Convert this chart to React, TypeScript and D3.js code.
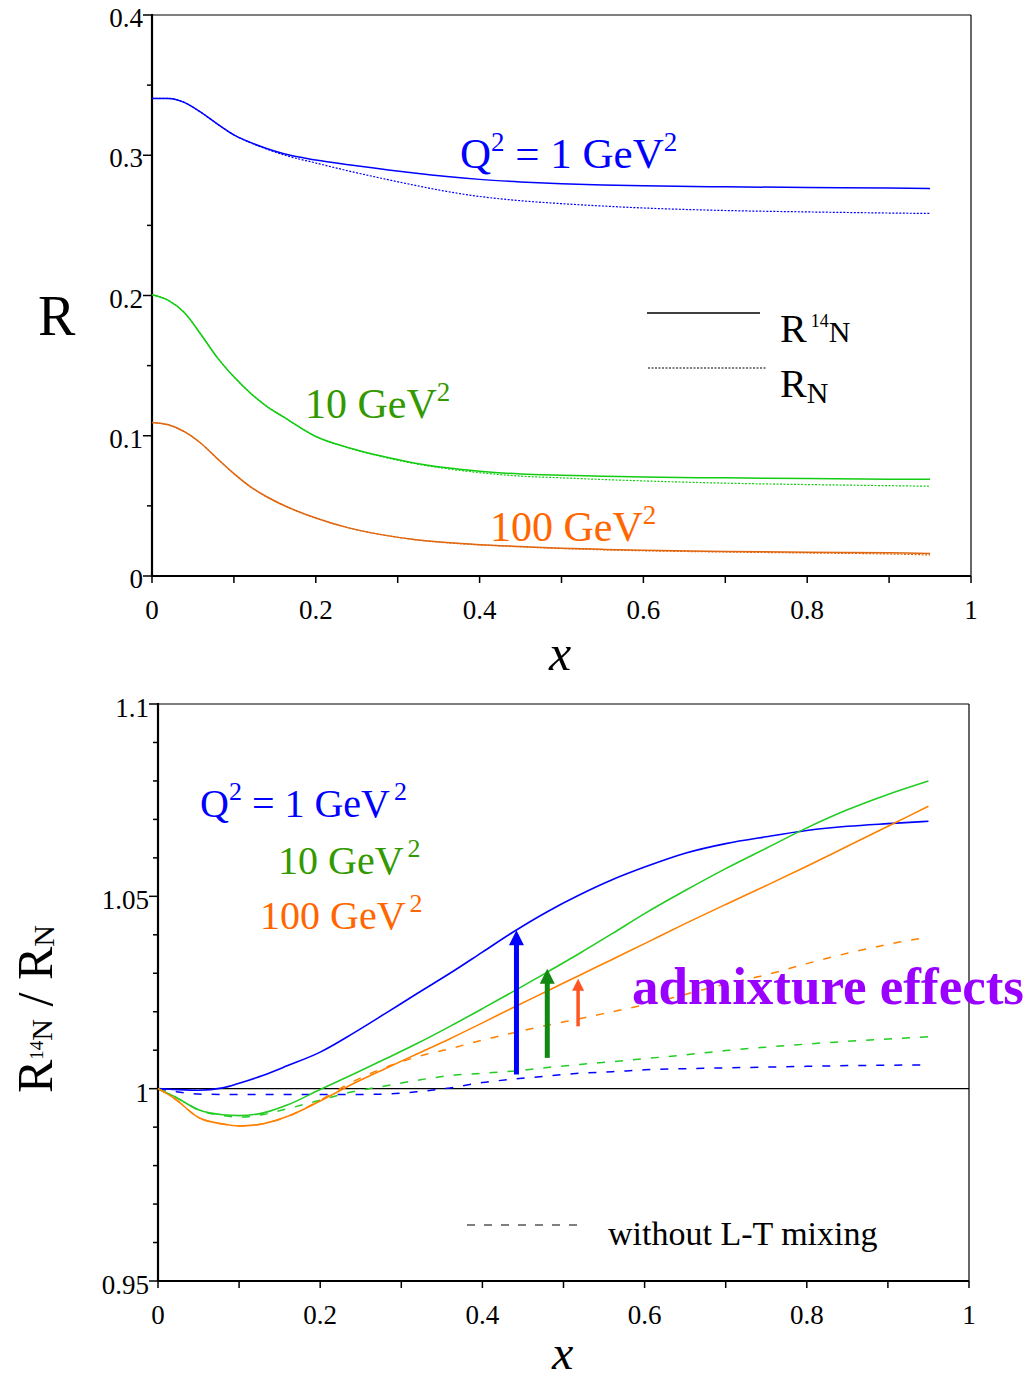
import * as d3 from "d3";

// ---- top panel: R vs x ----
const xTop = [0, 0.02, 0.04, 0.06, 0.08, 0.1, 0.12, 0.14, 0.16, 0.2, 0.24, 0.28, 0.32, 0.36, 0.4, 0.45, 0.5, 0.55, 0.6, 0.7, 0.8, 0.9, 0.95];
const r14N_q1 = [0.3405, 0.3405, 0.3375, 0.3305, 0.3222, 0.3145, 0.3092, 0.3048, 0.3012, 0.2966, 0.2932, 0.2902, 0.2873, 0.2848, 0.2828, 0.281, 0.2797, 0.2788, 0.2782, 0.2775, 0.277, 0.2767, 0.2762];
const rN_q1 = [0.3405, 0.3405, 0.3375, 0.3305, 0.3222, 0.3145, 0.309, 0.3044, 0.3004, 0.2945, 0.2888, 0.2836, 0.2787, 0.2742, 0.2706, 0.2676, 0.2655, 0.2638, 0.2624, 0.2606, 0.2596, 0.2588, 0.2585];
const r14N_q10 = [0.2005, 0.1965, 0.1875, 0.172, 0.1555, 0.142, 0.1305, 0.121, 0.1136, 0.0995, 0.0915, 0.0855, 0.0806, 0.0771, 0.0747, 0.0727, 0.0718, 0.0712, 0.0705, 0.07, 0.0695, 0.069, 0.069];
const rN_q10 = [0.2005, 0.1965, 0.1875, 0.172, 0.1555, 0.142, 0.1305, 0.121, 0.1136, 0.0995, 0.0913, 0.0852, 0.0802, 0.0765, 0.0737, 0.0712, 0.07, 0.0688, 0.0678, 0.0662, 0.0652, 0.0644, 0.064];
const r14N_q100 = [0.1095, 0.1078, 0.1028, 0.0945, 0.0835, 0.073, 0.0637, 0.0565, 0.0506, 0.0413, 0.0343, 0.0295, 0.026, 0.0238, 0.0223, 0.021, 0.0198, 0.019, 0.0183, 0.0175, 0.0169, 0.0166, 0.016];
const rN_q100 = [0.1095, 0.1078, 0.1028, 0.0945, 0.0835, 0.073, 0.0637, 0.0565, 0.0506, 0.0413, 0.0343, 0.0295, 0.026, 0.0237, 0.0222, 0.0208, 0.0196, 0.0187, 0.018, 0.0171, 0.0164, 0.0157, 0.015];

// ---- bottom panel: R14N / RN vs x ----
const xBot = [0, 0.02, 0.05, 0.08, 0.1, 0.13, 0.16, 0.2, 0.24, 0.28, 0.32, 0.36, 0.4, 0.44, 0.48, 0.52, 0.56, 0.6, 0.65, 0.7, 0.75, 0.8, 0.85, 0.9, 0.95];
const ratio_q1 = [1.0, 0.9998, 0.9996, 1.0002, 1.0014, 1.0035, 1.006, 1.0095, 1.0143, 1.0195, 1.0248, 1.03, 1.0355, 1.041, 1.046, 1.0504, 1.0543, 1.0576, 1.0612, 1.0637, 1.0655, 1.0671, 1.0682, 1.0689, 1.0695];
const ratio_q10 = [1.0, 0.998, 0.9945, 0.9932, 0.993, 0.9937, 0.9958, 0.9998, 1.0037, 1.0077, 1.0118, 1.0162, 1.0208, 1.0255, 1.0303, 1.0352, 1.0403, 1.0455, 1.0515, 1.0572, 1.0625, 1.0678, 1.0725, 1.0765, 1.08];
const ratio_q100 = [1.0, 0.9975, 0.9925, 0.9908, 0.9903, 0.9909, 0.9928, 0.9968, 1.0012, 1.0052, 1.0091, 1.013, 1.0171, 1.0213, 1.0254, 1.0295, 1.0336, 1.0377, 1.0429, 1.0479, 1.0528, 1.0578, 1.063, 1.0682, 1.0734];
const noMix_q1 = [1.0, 0.9993, 0.9986, 0.9985, 0.9985, 0.9985, 0.9985, 0.9985, 0.9985, 0.9986, 0.9992, 1.0002, 1.0016, 1.0025, 1.0033, 1.004, 1.0044, 1.0049, 1.0052, 1.0054, 1.0056, 1.0058, 1.006, 1.0061, 1.0062];
const noMix_q10 = [1.0, 0.998, 0.9945, 0.993, 0.9926, 0.9933, 0.9948, 0.997, 0.9992, 1.0007, 1.0022, 1.0034, 1.004, 1.0046, 1.0055, 1.0063, 1.007, 1.0078, 1.0088, 1.0099, 1.0108, 1.0116, 1.0123, 1.0129, 1.0135];
const noMix_q100 = [1.0, 0.9975, 0.9925, 0.9908, 0.9903, 0.9909, 0.9928, 0.997, 1.0018, 1.0055, 1.0083, 1.0104, 1.0126, 1.0146, 1.0165, 1.0182, 1.02, 1.0218, 1.0245, 1.0272, 1.0296, 1.0325, 1.0352, 1.0375, 1.0394];

// arrows: x, start, tip
const arrowX = [0.442, 0.48, 0.518];
const arrowFrom = [1.0037, 1.008, 1.0162];
const arrowTo = [1.0412, 1.0312, 1.0286];
const arrowColors = ["#0000ff", "#118811", "#ff5522"];

const topYTicks = [0, 0.1, 0.2, 0.3, 0.4];
const botYTicks = [0.95, 1, 1.05, 1.1];
const xTicks = [0, 0.2, 0.4, 0.6, 0.8, 1];

const FONT = "'Liberation Serif', 'Times New Roman', serif";

const xT = d3.scaleLinear().domain([0, 1]).range([152, 971]);
const yT = d3.scaleLinear().domain([0, 0.4]).range([576, 15]);
const xB = d3.scaleLinear().domain([0, 1]).range([158, 969]);
const yB = d3.scaleLinear().domain([0.95, 1.1]).range([1281, 704]);

const fmt = (v: number) => String(+v.toFixed(2));

function Frame({ x, y, yMinor, yMajor, yLabelDy }: any) {
  const [x0, x1] = x.range();
  const [y0, y1] = y.range();
  return (
    <g>
      <line x1={x0} x2={x1} y1={y1} y2={y1} stroke="#000" strokeWidth={1.2} />
      <line x1={x1} x2={x1} y1={y1} y2={y0} stroke="#000" strokeWidth={1.2} />
      <line x1={x0} x2={x0} y1={y1 - 1} y2={y0 + 1} stroke="#000" strokeWidth={2.2} />
      <line x1={x0 - 1} x2={x1} y1={y0} y2={y0} stroke="#000" strokeWidth={2.2} />
      {d3.range(0, 1.0001, 0.1).map((t) => (
        <line key={"xt" + t} x1={x(t)} x2={x(t)} y1={y0} y2={y0 + 7} stroke="#000" strokeWidth={1.5} />
      ))}
      {yMinor.map((t: number) => (
        <line key={"yt" + t} x1={x0 - 5} x2={x0} y1={y(t)} y2={y(t)} stroke="#000" strokeWidth={1.5} />
      ))}
      {yMajor.map((t: number) => (
        <g key={"yl" + t}>
          <line x1={x0 - 9} x2={x0} y1={y(t)} y2={y(t)} stroke="#000" strokeWidth={1.5} />
          <text x={x0 - 9} y={y(t) + yLabelDy} textAnchor="end" fontSize={27} fontFamily={FONT}>{fmt(t)}</text>
        </g>
      ))}
      {xTicks.map((t) => (
        <text key={"xl" + t} x={x(t)} y={y0 + 43} textAnchor="middle" fontSize={27} fontFamily={FONT}>{fmt(t)}</text>
      ))}
    </g>
  );
}

function Arrow({ x, from, to, color, w, head }: any) {
  const px = xB(x);
  const yFrom = yB(from);
  const yTo = yB(to);
  return (
    <g>
      <line x1={px} x2={px} y1={yFrom} y2={yTo + head - 1} stroke={color} strokeWidth={w} />
      <path d={`M${px},${yTo} L${px - head / 2},${yTo + head} L${px + head / 2},${yTo + head} Z`} fill={color} />
    </g>
  );
}

export default function App() {
  const lineTop = (ys: number[]) =>
    d3.line<number>().x((_, i) => xT(xTop[i])).y((d) => yT(d)).curve(d3.curveMonotoneX)(ys) || "";
  const lineBot = (ys: number[]) =>
    d3.line<number>().x((_, i) => xB(xBot[i])).y((d) => yB(d)).curve(d3.curveMonotoneX)(ys) || "";

  const topMinor = d3.range(0.05, 0.4, 0.1);
  const botMinor = d3.range(0.95, 1.1001, 0.01).filter((t) => Math.abs(t * 20 - Math.round(t * 20)) > 0.01);

  const topSeries = [
    { s: r14N_q1, d: rN_q1, c: "#0000ff" },
    { s: r14N_q10, d: rN_q10, c: "#11cc11" },
    { s: r14N_q100, d: rN_q100, c: "#e0660f" },
  ];
  const botSeries = [
    { s: ratio_q1, d: noMix_q1, c: "#0000ff" },
    { s: ratio_q10, d: noMix_q10, c: "#22cc22" },
    { s: ratio_q100, d: noMix_q100, c: "#ff8000" },
  ];

  return (
    <svg width={1027} height={1378} style={{ position: "absolute", left: 0, top: 0, background: "#fff" }} fontFamily={FONT}>
      {/* top panel */}
      <Frame x={xT} y={yT} yMinor={topMinor} yMajor={topYTicks} yLabelDy={12} />
      {topSeries.map((p, i) => (
        <g key={"ts" + i}>
          <path d={lineTop(p.d)} fill="none" stroke={p.c} strokeWidth={1.2} strokeDasharray="2,1.5" />
          <path d={lineTop(p.s)} fill="none" stroke={p.c} strokeWidth={1.5} />
        </g>
      ))}
      <text x={38} y={335} fontSize={56}>R</text>
      <text x={549} y={670} fontSize={50} fontStyle="italic">x</text>
      <text x={460} y={168} fontSize={43} fill="#0000ff">
        Q<tspan dy={-17} fontSize={27}>2</tspan><tspan dy={17}> = 1 GeV</tspan><tspan dy={-17} fontSize={27}>2</tspan>
      </text>
      <text x={305} y={418} fontSize={42} fill="#339900">
        10 GeV<tspan dy={-17} fontSize={27}>2</tspan>
      </text>
      <text x={490} y={541} fontSize={42} fill="#ff6600">
        100 GeV<tspan dy={-17} fontSize={27}>2</tspan>
      </text>
      <line x1={647} x2={760} y1={313} y2={313} stroke="#000" strokeWidth={1.5} />
      <line x1={648} x2={766} y1={368} y2={368} stroke="#000" strokeWidth={1.2} strokeDasharray="2,1.5" />
      <text x={780} y={342} fontSize={40}>
        R<tspan dx={4} dy={-15} fontSize={18}>14</tspan><tspan dy={15} fontSize={30}>N</tspan>
      </text>
      <text x={780} y={397} fontSize={40}>
        R<tspan dy={6} fontSize={30}>N</tspan>
      </text>

      {/* bottom panel */}
      <Frame x={xB} y={yB} yMinor={botMinor} yMajor={botYTicks} yLabelDy={13} />
      <line x1={xB(0)} x2={xB(1)} y1={yB(1)} y2={yB(1)} stroke="#000" strokeWidth={1.3} />
      {botSeries.map((p, i) => (
        <g key={"bs" + i}>
          <path d={lineBot(p.d)} fill="none" stroke={p.c} strokeWidth={1.5} strokeDasharray="8,10" />
          <path d={lineBot(p.s)} fill="none" stroke={p.c} strokeWidth={1.6} />
        </g>
      ))}
      {arrowX.map((ax, i) => (
        <Arrow key={"ar" + i} x={ax} from={arrowFrom[i]} to={arrowTo[i]} color={arrowColors[i]} w={i === 2 ? 3.5 : 5} head={i === 2 ? 12 : 15} />
      ))}
      <text x={200} y={817} fontSize={40} fill="#0000ff">
        Q<tspan dy={-17} fontSize={26}>2</tspan><tspan dy={17}> = 1 GeV</tspan><tspan dx={4} dy={-17} fontSize={26}>2</tspan>
      </text>
      <text x={278} y={874} fontSize={40} fill="#339900">
        10 GeV<tspan dx={4} dy={-17} fontSize={26}>2</tspan>
      </text>
      <text x={260} y={929} fontSize={40} fill="#ff6600">
        100 GeV<tspan dx={4} dy={-17} fontSize={26}>2</tspan>
      </text>
      <text x={632} y={1004} fontSize={53} fontWeight="bold" fill="#9900ff">admixture effects</text>
      <line x1={467} x2={585} y1={1225} y2={1225} stroke="#000" strokeWidth={1.2} strokeDasharray="8,9" />
      <text x={608} y={1245} fontSize={34}>without L-T mixing</text>
      <text x={552} y={1369} fontSize={48} fontStyle="italic">x</text>
      <text transform="translate(52,1093) rotate(-90)" fontSize={50}>
        R<tspan dy={-9} fontSize={19}>14</tspan><tspan dy={9} fontSize={30}>N</tspan> / R<tspan dy={2} fontSize={30}>N</tspan>
      </text>
    </svg>
  );
}
